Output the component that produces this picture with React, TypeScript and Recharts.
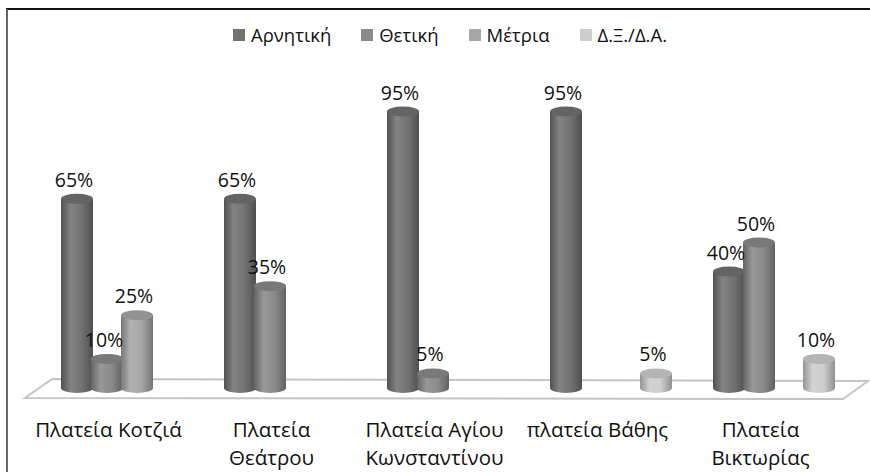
import { BarChart, Bar, XAxis, YAxis, Legend, LabelList } from 'recharts';

const categories = [
  'Πλατεία Κοτζιά',
  'Πλατεία Θεάτρου',
  'Πλατεία Αγίου Κωνσταντίνου',
  'πλατεία Βάθης',
  'Πλατεία Βικτωρίας',
];
// how the category labels wrap under the axis
const tickLines = [
  ['Πλατεία Κοτζιά'],
  ['Πλατεία', 'Θεάτρου'],
  ['Πλατεία Αγίου', 'Κωνσταντίνου'],
  ['πλατεία Βάθης'],
  ['Πλατεία', 'Βικτωρίας'],
];
const negative = [65, 65, 95, 95, 40];
const positive = [10, 35, 5, 0, 50];
const moderate = [25, 0, 0, 0, 0];
const dontKnow = [0, 0, 0, 5, 10];

const seriesKeys = ['neg', 'pos', 'mod', 'dk'];
const seriesNames = ['Αρνητική', 'Θετική', 'Μέτρια', 'Δ.Ξ./Δ.Α.'];
const seriesColors = ['#727272', '#8a8a8a', '#a6a6a6', '#cdcdcd'];

const data = categories.map((name, i) => ({
  name,
  neg: negative[i],
  pos: positive[i],
  mod: moderate[i],
  dk: dontKnow[i],
}));

const W = 870;
const H = 472;
const PLOT_LEFT = 40;
const PLOT_RIGHT = 855;
const PLOT_TOP = 97;
const BASE_Y = 388;
const AXIS_H = 60;
const FONT = '"Open Sans", Roboto, sans-serif';

function shade(hex: string, f: number) {
  const n = parseInt(hex.slice(1), 16);
  const ch = [(n >> 16) & 255, (n >> 8) & 255, n & 255].map((c) =>
    Math.max(0, Math.min(255, Math.round(f > 1 ? c + (255 - c) * (f - 1) : c * f)))
  );
  return `rgb(${ch.join(',')})`;
}

const makeCylinder = (idx: number) => (props: any) => {
  const { x, y, width, height } = props;
  if (!height || height <= 0) return <g />;
  const w = width + 2;
  const cx = x + width / 2;
  const left = cx - w / 2;
  const ry = 5;
  return (
    <g>
      <ellipse cx={cx} cy={y + height} rx={w / 2} ry={ry} fill={`url(#cyl${idx})`} />
      <rect x={left} y={y} width={w} height={height} fill={`url(#cyl${idx})`} />
      <ellipse cx={cx} cy={y} rx={w / 2} ry={ry} fill={shade(seriesColors[idx], 0.88)} />
    </g>
  );
};

const valueLabel = (props: any) => {
  const { x, y, width, value } = props;
  if (!value) return null;
  return (
    <text
      x={x + width / 2 - 3}
      y={y - 12}
      textAnchor="middle"
      fontSize={19.5}
      fontFamily={FONT}
      fill="#111"
    >
      {`${value}%`}
    </text>
  );
};

const CategoryTick = (props: any) => {
  const { x, y, index } = props;
  const lines = tickLines[index] || [];
  return (
    <text x={x - 13} y={y + 49} textAnchor="middle" fontSize={20.5} fontFamily={FONT} fill="#111">
      {lines.map((l, i) => (
        <tspan key={i} x={x - 13} dy={i === 0 ? 0 : 28}>
          {l}
        </tspan>
      ))}
    </text>
  );
};

const LegendContent = () => (
  <div
    style={{
      display: 'flex',
      justifyContent: 'center',
      gap: 30,
      fontFamily: FONT,
      fontSize: 18.5,
      color: '#111',
      paddingLeft: 30,
    }}
  >
    {seriesNames.map((n, i) => (
      <span key={n} style={{ display: 'flex', alignItems: 'center', gap: 6 }}>
        <span style={{ width: 12, height: 12, background: seriesColors[i], display: 'inline-block' }} />
        {n}
      </span>
    ))}
  </div>
);

export default function App() {
  const floor = [
    [PLOT_LEFT + 12, BASE_Y - 9],
    [PLOT_RIGHT + 13, BASE_Y - 7],
    [PLOT_RIGHT - 12, BASE_Y + 11],
    [PLOT_LEFT - 15, BASE_Y + 10],
  ]
    .map((p) => p.join(','))
    .join(' ');

  return (
    <div style={{ position: 'absolute', left: 0, top: 0, width: W, height: H, background: '#fff' }}>
      <svg width={W} height={H} style={{ position: 'absolute', left: 0, top: 0 }}>
        <line x1={6} y1={9} x2={W} y2={9} stroke="#111" strokeWidth={2} />
        <line x1={7} y1={9} x2={7} y2={H} stroke="#666" strokeWidth={2} />
        <polygon points={floor} fill="#fff" stroke="#c4c4c4" strokeWidth={2} />
      </svg>
      <div style={{ position: 'absolute', left: 0, top: 0 }}>
        <BarChart
          width={W}
          height={H}
          data={data}
          barGap={0}
          barCategoryGap={21}
          margin={{ top: PLOT_TOP, right: W - PLOT_RIGHT, left: PLOT_LEFT, bottom: H - BASE_Y - AXIS_H }}
        >
          <defs>
            {seriesColors.map((c, i) => (
              <linearGradient key={i} id={`cyl${i}`} x1="0" y1="0" x2="1" y2="0">
                <stop offset="0%" stopColor={shade(c, 0.72)} />
                <stop offset="30%" stopColor={shade(c, 1.12)} />
                <stop offset="65%" stopColor={shade(c, 1.0)} />
                <stop offset="100%" stopColor={shade(c, 0.7)} />
              </linearGradient>
            ))}
          </defs>
          <XAxis
            dataKey="name"
            height={AXIS_H}
            axisLine={false}
            tickLine={false}
            tickSize={0}
            tickMargin={0}
            interval={0}
            tick={<CategoryTick />}
          />
          <YAxis hide domain={[0, 100]} />
          <Legend
            verticalAlign="middle"
            content={<LegendContent />}
            wrapperStyle={{ top: 22, left: 0, width: W }}
          />
          {seriesKeys.map((k, i) => (
            <Bar
              key={k}
              dataKey={k}
              name={seriesNames[i]}
              fill={seriesColors[i]}
              barSize={30}
              isAnimationActive={false}
              shape={makeCylinder(i)}
            >
              <LabelList dataKey={k} content={valueLabel} />
            </Bar>
          ))}
        </BarChart>
      </div>
    </div>
  );
}
